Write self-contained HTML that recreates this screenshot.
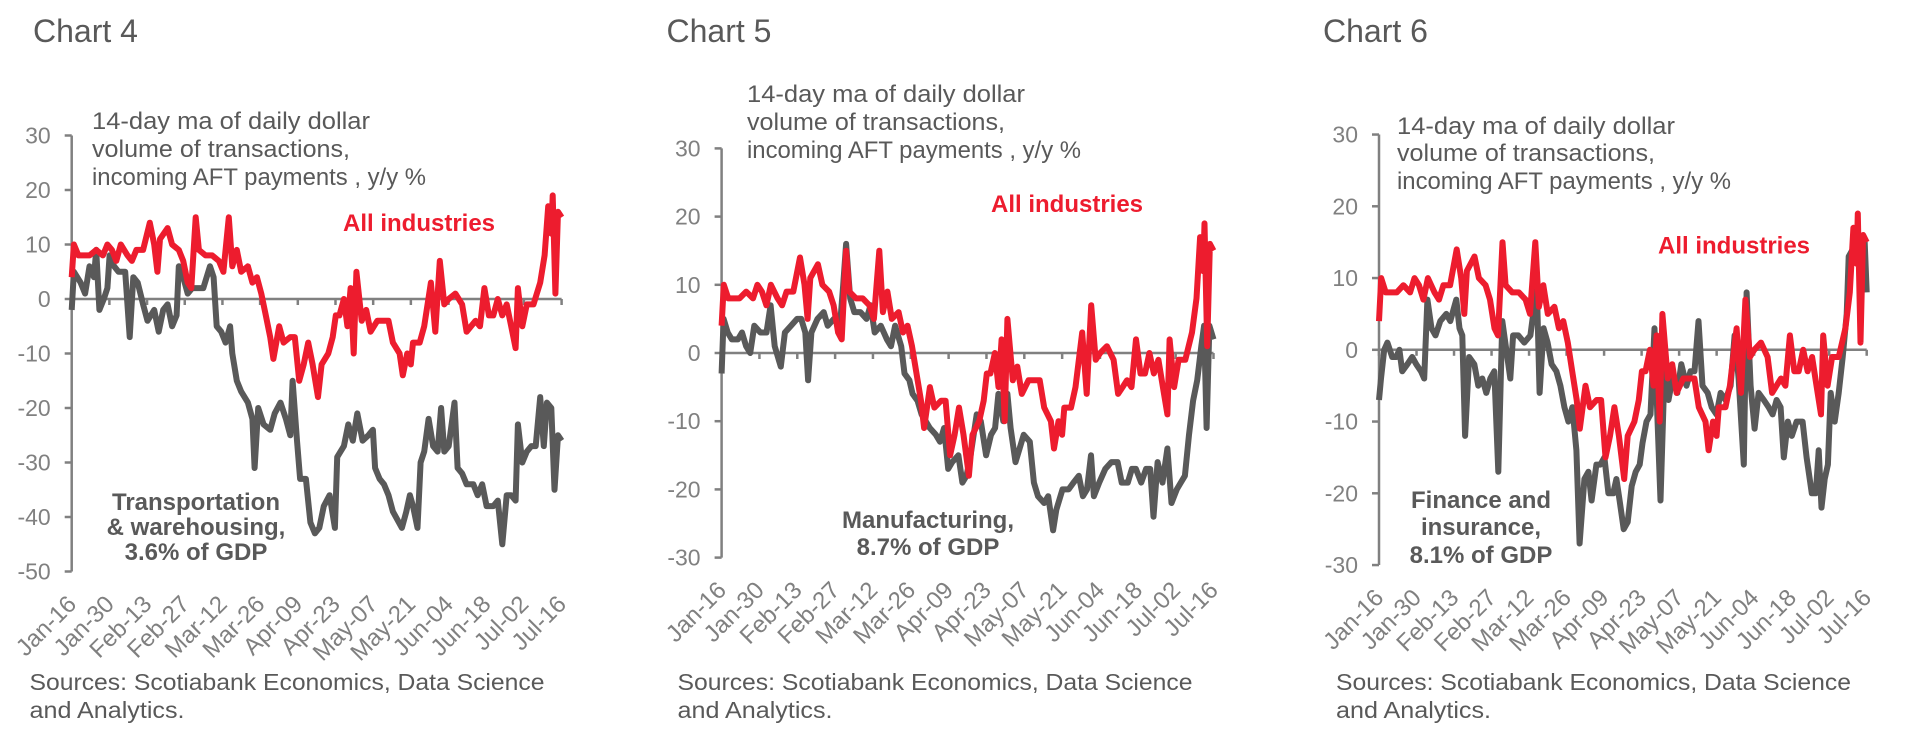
<!DOCTYPE html>
<html><head><meta charset="utf-8"><style>
html,body{margin:0;padding:0;background:#fff;}
svg{display:block;font-family:"Liberation Sans",Arial,sans-serif;}
</style></head><body>
<svg id="s" width="1908" height="736" viewBox="0 0 1908 736" xmlns="http://www.w3.org/2000/svg"></svg>
<script>
var red=[[160,4],[165,10],[175,8],[200,8],[215,9],[230,8],[240,10],[250,9],[260,7],[270,10],[285,8],[295,7],[305,9],[320,9],[335,14],[345,10],[352,5],[358,11],[375,13],[385,10],[400,9],[410,7],[420,3],[428,2],[438,15],[445,9],[460,8],[475,8],[490,7],[500,5],[512,15],[520,6],[530,9],[540,5],[555,6],[565,3],[575,4],[585,1],[595,-3],[605,-7],[612,-11],[625,-5],[635,-8],[650,-7],[660,-7],[670,-15],[680,-12],[690,-8],[700,-12],[712,-18],[720,-12],[735,-10],[745,-7],[752,-3],[760,-3],[770,0],[778,-5],[785,2],[792,-10],[798,5],[810,-4],[820,-2],[830,-6],[845,-4],[870,-4],[880,-8],[895,-10],[902,-14],[912,-10],[920,-12],[925,-8],[940,-8],[950,-5],[965,3],[975,-6],[985,7],[995,-1],[1005,0],[1020,1],[1035,-1],[1045,-6],[1055,-5],[1065,-4],[1075,-5],[1085,2],[1095,-3],[1105,-3],[1115,0],[1125,-3],[1135,-1],[1145,-5],[1155,-9],[1160,2],[1170,-5],[1180,-1],[1195,-1],[1210,3],[1220,8],[1228,17],[1235,12],[1238,19],[1244,1],[1250,16],[1258,15]];
var g4=[[160,-2],[165,5],[180,3],[190,1],[200,6],[210,4],[215,9],[222,-2],[232,0],[240,2],[245,8],[255,6],[265,5],[280,5],[290,-7],[298,4],[308,3],[320,-1],[330,-4],[345,-2],[355,-6],[365,-2],[375,-1],[385,-5],[395,-3],[400,6],[410,4],[420,1],[430,2],[440,2],[455,2],[470,6],[478,4],[485,-5],[495,-6],[505,-8],[515,-5],[520,-10],[530,-15],[540,-17],[555,-19],[565,-22],[570,-31],[578,-20],[590,-23],[605,-24],[615,-21],[628,-19],[640,-22],[650,-25],[655,-15],[665,-26],[672,-33],[685,-33],[695,-41],[705,-43],[715,-42],[725,-38],[738,-36],[750,-42],[755,-29],[770,-27],[780,-23],[790,-26],[800,-21],[812,-26],[825,-25],[835,-24],[840,-31],[850,-33],[860,-34],[870,-36],[880,-39],[900,-42],[910,-39],[918,-36],[925,-38],[935,-42],[942,-30],[950,-28],[960,-22],[970,-27],[980,-28],[988,-20],[995,-28],[1005,-27],[1018,-19],[1025,-31],[1035,-32],[1045,-34],[1060,-34],[1070,-36],[1080,-34],[1090,-38],[1105,-38],[1115,-37],[1125,-45],[1135,-36],[1145,-36],[1155,-37],[1160,-23],[1170,-30],[1180,-28],[1190,-27],[1200,-27],[1210,-18],[1218,-27],[1225,-19],[1235,-20],[1242,-35],[1250,-25],[1258,-26]];
var g5=[[200,-3],[205,5],[215,3],[225,2],[240,2],[250,3],[260,1],[270,0],[280,4],[295,3],[310,3],[320,7],[330,1],[345,-2],[355,3],[370,4],[385,5],[395,5],[405,3],[412,-4],[420,3],[435,5],[450,6],[460,4],[475,5],[490,4],[498,10],[505,16],[515,8],[525,6],[540,6],[555,5],[565,7],[575,3],[590,4],[605,2],[615,1],[625,4],[640,1],[648,-3],[660,-4],[668,-6],[680,-7],[690,-9],[700,-10],[710,-11],[725,-12],[735,-13],[745,-11],[755,-17],[765,-16],[780,-15],[790,-19],[800,-18],[810,-15],[825,-9],[835,-10],[848,-15],[860,-12],[870,-11],[878,-6],[890,-10],[900,-6],[908,-11],[920,-16],[930,-14],[940,-12],[955,-13],[965,-19],[975,-21],[990,-22],[1000,-21],[1012,-26],[1020,-23],[1035,-20],[1050,-20],[1062,-19],[1075,-18],[1085,-21],[1095,-20],[1105,-15],[1112,-21],[1125,-19],[1140,-17],[1155,-16],[1170,-16],[1180,-19],[1195,-19],[1205,-17],[1215,-17],[1228,-19],[1240,-17],[1250,-17],[1258,-24],[1268,-16],[1280,-19],[1292,-14],[1302,-22],[1315,-20],[1325,-19],[1335,-18],[1345,-12],[1355,-7],[1365,-4],[1375,1],[1382,4],[1388,-11],[1395,4],[1405,2]];
var g6=[[247,-7],[252,-4],[260,0],[268,1],[280,-1],[290,-1],[298,0],[305,-3],[318,-2],[330,-1],[340,-2],[352,-3],[360,-4],[368,7],[378,3],[388,2],[400,4],[415,5],[425,4],[440,7],[448,3],[455,2],[462,-12],[472,-1],[485,-2],[495,-5],[505,-4],[515,-6],[525,-4],[535,-3],[545,-17],[555,4],[565,0],[575,-4],[582,2],[595,2],[610,1],[625,2],[632,5],[640,11],[648,-6],[658,3],[668,1],[678,-2],[690,-3],[700,-5],[710,-8],[720,-10],[730,-8],[740,-14],[748,-27],[760,-18],[770,-17],[778,-21],[790,-16],[800,-16],[810,-15],[820,-20],[832,-20],[840,-18],[848,-21],[858,-25],[868,-24],[878,-19],[888,-17],[898,-16],[905,-13],[915,-10],[925,-9],[935,3],[942,-9],[950,-21],[960,-3],[970,-7],[980,-4],[992,-6],[1002,-2],[1015,-5],[1025,-3],[1035,-3],[1045,4],[1055,-5],[1068,-6],[1078,-8],[1090,-9],[1100,-6],[1112,-7],[1125,-5],[1135,2],[1145,-4],[1158,-16],[1165,8],[1175,-5],[1185,-11],[1195,-6],[1208,-7],[1220,-8],[1230,-9],[1240,-7],[1250,-8],[1258,-15],[1268,-10],[1278,-12],[1290,-10],[1305,-10],[1315,-15],[1328,-20],[1338,-20],[1345,-14],[1352,-22],[1360,-18],[1368,-16],[1375,-6],[1385,-10],[1395,-6],[1405,-1],[1415,5],[1420,13],[1430,14],[1440,17],[1450,12],[1460,15],[1465,8]];
var labs=["Jan-16","Jan-30","Feb-13","Feb-27","Mar-12","Mar-26","Apr-09","Apr-23","May-07","May-21","Jun-04","Jun-18","Jul-02","Jul-16"];
var charts=[
 {t:"Chart 4",tx:33,ax:71.7,ex:561.6,z:299,u:5.45,ymax:30,ymin:-50,g:g4,g0:160,gw:1098,ann:[92,129,157,185],all:[343,231],gl:{x:196,ys:[510,535,560],t:["Transportation","& warehousing,","3.6% of GDP"]},sx:29.5},
 {t:"Chart 5",tx:666.5,ax:721.6,ex:1213.5,z:353,u:6.82,ymax:30,ymin:-30,g:g5,g0:200,gw:1205,ann:[747,102,130,158],all:[991,212],gl:{x:928,ys:[528,555],t:["Manufacturing,","8.7% of GDP"]},sx:677.5},
 {t:"Chart 6",tx:1323,ax:1379,ex:1866.7,z:349.8,u:7.175,ymax:30,ymin:-30,g:g6,g0:247,gw:1218,ann:[1397,134,161,189],all:[1658,253.5],gl:{x:1481,ys:[508,535,563],t:["Finance and","insurance,","8.1% of GDP"]},sx:1336}
];
var h="";
charts.forEach(function(c){
 var W=c.ex-c.ax, Y=function(v){return c.z-v*c.u;};
 var top=Y(c.ymax),bot=Y(c.ymin);
 h+='<text x="'+c.tx+'" y="42" font-size="32" fill="#595959">'+c.t+'</text>';
 h+='<line x1="'+c.ax+'" y1="'+top+'" x2="'+c.ax+'" y2="'+bot+'" stroke="#808080" stroke-width="2.5"/>';
 for(var v=c.ymax;v>=c.ymin;v-=10){var y=Y(v);
  h+='<line x1="'+(c.ax-7)+'" y1="'+y+'" x2="'+c.ax+'" y2="'+y+'" stroke="#808080" stroke-width="2.5"/>';
  h+='<text x="'+(c.ax-21)+'" y="'+(y+8)+'" font-size="23" fill="#808080" text-anchor="end">'+v+'</text>';}
 h+='<line x1="'+c.ax+'" y1="'+c.z+'" x2="'+c.ex+'" y2="'+c.z+'" stroke="#808080" stroke-width="2.5"/>';
 for(var i=0;i<14;i++){var x=c.ax+W*i/13;
  h+='<line x1="'+x+'" y1="'+c.z+'" x2="'+x+'" y2="'+(c.z+6)+'" stroke="#808080" stroke-width="2.5"/>';
  var px=x+6,py=bot+34;
  h+='<text transform="translate('+px+','+py+') rotate(-45)" font-size="24" fill="#808080" text-anchor="end">'+labs[i]+'</text>';}
 var gp=c.g.map(function(p){return (c.ax+W*(p[0]-c.g0)/c.gw).toFixed(1)+','+Y(p[1]).toFixed(1);}).join(' ');
 h+='<polyline points="'+gp+'" fill="none" stroke="#595959" stroke-width="6" stroke-linejoin="round"/>';
 var rp=red.map(function(p){return (c.ax+W*(p[0]-160)/1098).toFixed(1)+','+Y(p[1]).toFixed(1);}).join(' ');
 h+='<polyline points="'+rp+'" fill="none" stroke="#ED1C2E" stroke-width="6" stroke-linejoin="round"/>';
 var a=c.ann,al=["14-day  ma of daily dollar","volume of transactions,","incoming AFT payments , y/y %"],aw=[278,258,334];
 for(var k=0;k<3;k++) h+='<text x="'+a[0]+'" y="'+a[k+1]+'" font-size="24" fill="#595959" textLength="'+aw[k]+'" lengthAdjust="spacingAndGlyphs">'+al[k]+'</text>';
 h+='<text x="'+c.all[0]+'" y="'+c.all[1]+'" font-size="24" font-weight="bold" fill="#ED1C2E">All industries</text>';
 c.gl.t.forEach(function(t,k){h+='<text x="'+c.gl.x+'" y="'+c.gl.ys[k]+'" font-size="24" font-weight="bold" fill="#595959" text-anchor="middle">'+t.replace(/&/g,"&amp;")+'</text>';});
 h+='<text x="'+c.sx+'" y="690" font-size="23" fill="#595959" textLength="515" lengthAdjust="spacingAndGlyphs">Sources: Scotiabank Economics, Data Science</text>';
 h+='<text x="'+c.sx+'" y="718" font-size="23" fill="#595959" textLength="155" lengthAdjust="spacingAndGlyphs">and Analytics.</text>';
});
document.getElementById("s").innerHTML=h;
</script>
</body></html>
